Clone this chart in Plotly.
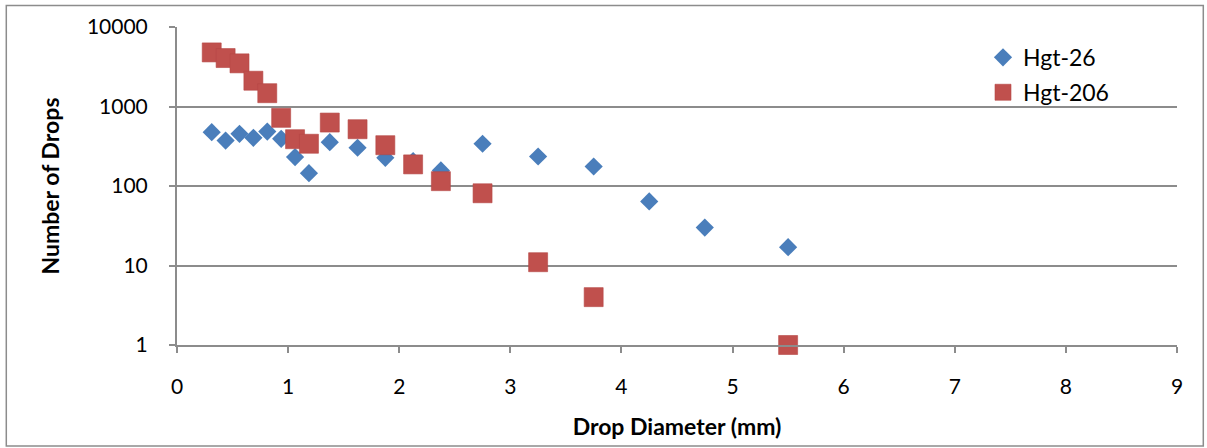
import plotly.graph_objects as go

# Drop size distribution: diameter bins (mm) and drop counts per bin
diam_26 = [0.3125, 0.4375, 0.5625, 0.6875, 0.8125, 0.9375, 1.0625, 1.1875,
           1.375, 1.625, 1.875, 2.125, 2.375, 2.75, 3.25, 3.75, 4.25, 4.75, 5.5]
count_26 = [475, 373, 453, 404, 484, 392, 231, 145,
            356, 303, 226, 206, 157, 340, 235, 176, 64, 30, 17]

diam_206 = [0.3125, 0.4375, 0.5625, 0.6875, 0.8125, 0.9375, 1.0625, 1.1875,
            1.375, 1.625, 1.875, 2.125, 2.375, 2.75, 3.25, 3.75, 5.5]
count_206 = [4790, 4070, 3490, 2110, 1470, 720, 388, 340,
             628, 518, 326, 187, 115, 81, 11, 4, 1]

x_ticks = [0, 1, 2, 3, 4, 5, 6, 7, 8, 9]
y_ticks = [1, 10, 100, 1000, 10000]

FONT = "Lato, 'Open Sans', sans-serif"
GRID = "#8c8c8c"

fig = go.Figure()
fig.add_trace(go.Scatter(
    x=diam_26, y=count_26, mode="markers", name="Hgt-26", legendgroup="a",
    cliponaxis=False,
    marker=dict(symbol="diamond", size=14, color="#4a7ebb",
                line=dict(width=0)),
))
fig.add_trace(go.Scatter(
    x=diam_206, y=count_206, mode="markers", name="Hgt-206", legendgroup="b",
    cliponaxis=False,
    marker=dict(symbol="square", size=19, color="#c0504d",
                line=dict(width=0.6, color="#b54744")),
))

fig.update_layout(
    width=1207, height=448,
    margin=dict(l=177, r=30, t=27, b=103),
    paper_bgcolor="white", plot_bgcolor="white",
    font=dict(family=FONT, size=21, color="black"),
    showlegend=True,
    legend=dict(x=0.806, y=0.972, xanchor="left", yanchor="top",
                font=dict(size=23), bgcolor="rgba(0,0,0,0)",
                itemsizing="trace", tracegroupgap=2),
    xaxis=dict(
        range=[0, 9], tickvals=x_ticks, ticktext=[str(v) for v in x_ticks],
        showgrid=False, showline=True, linecolor=GRID, linewidth=2,
        ticks="outside", ticklen=6, tickcolor=GRID, tickwidth=1.5,
        ticklabelstandoff=16, zeroline=False,
        title=dict(text="<b>Drop Diameter (mm)</b>", font=dict(size=23),
                   standoff=22),
    ),
    yaxis=dict(
        type="log", range=[0, 4], tickvals=y_ticks,
        ticktext=[str(v) for v in y_ticks],
        showgrid=True, gridcolor=GRID, gridwidth=1.5,
        showline=True, linecolor=GRID, linewidth=2,
        ticks="outside", ticklen=6, tickcolor=GRID, tickwidth=1.5,
        ticklabelstandoff=17, zeroline=False,
        title=dict(text="<b>Number of Drops</b>", font=dict(size=23),
                   standoff=21),
    ),
)

# outer chart border
fig.add_shape(type="rect", xref="paper", yref="paper",
              x0=-0.1707, x1=1.0263, y0=-0.3173, y1=1.068,
              line=dict(color="#8c8c8c", width=1.5), layer="below")

fig.write_html("out.html")
